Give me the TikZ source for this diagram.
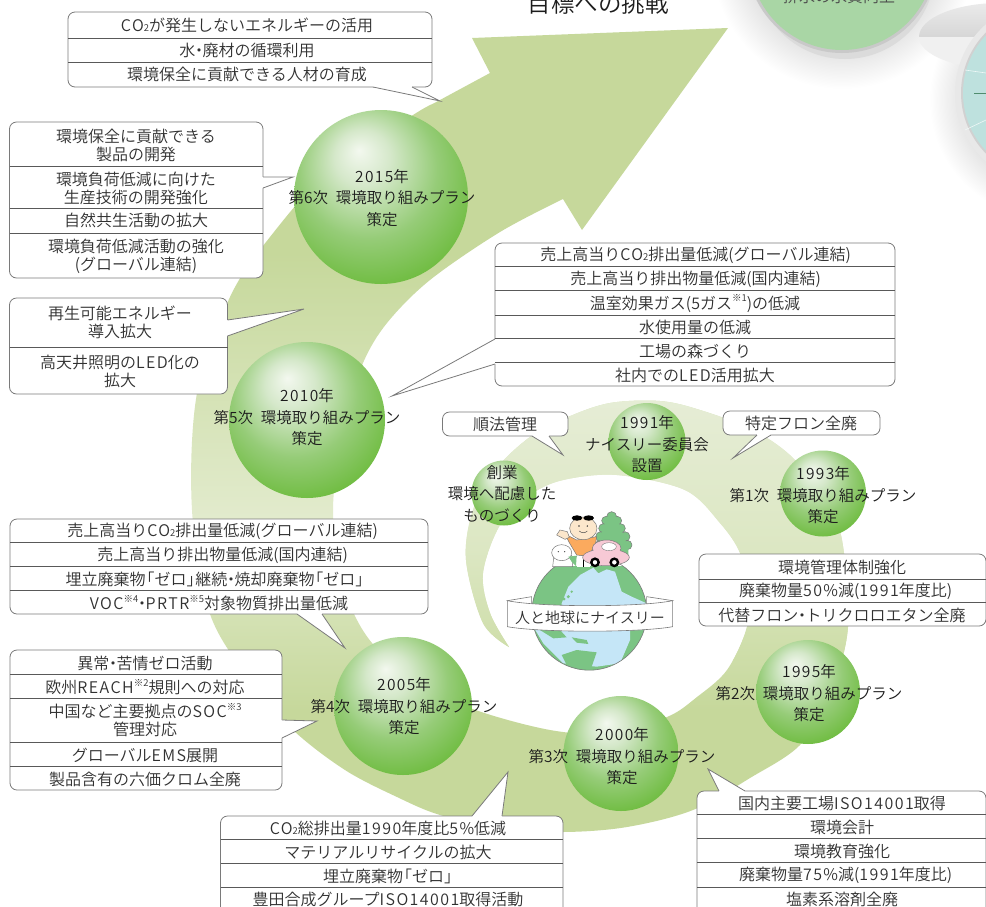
\documentclass[tikz,border=0pt]{standalone}
\usepackage{fontspec}
\setmainfont{Noto Sans CJK JP}[UprightFont=* DemiLight]
\newfontface\widelatin[LetterSpace=9]{Noto Sans CJK JP DemiLight}
\usetikzlibrary{calc}
\definecolor{bandA}{HTML}{C6D89B}
\definecolor{bandpale}{HTML}{E2EBCD}
\definecolor{coilA}{HTML}{CDDDA7}
\definecolor{coilB}{HTML}{DCE7C3}
\definecolor{coilC}{HTML}{E6EDD6}
\definecolor{glossA}{HTML}{F3F8EF}
\definecolor{glossB}{HTML}{D5E8CA}
\definecolor{glossC}{HTML}{96CC78}
\definecolor{glossD}{HTML}{6CBB3C}
\definecolor{halogrey}{HTML}{E4E4E4}
\definecolor{discgreen}{HTML}{A9D6A5}
\definecolor{discteal}{HTML}{BEE1DE}
\definecolor{dialline}{HTML}{508C6E}
\definecolor{inktext}{HTML}{303030}
\definecolor{inkdark}{HTML}{1C1C1C}
\definecolor{edgegrey}{HTML}{7A7A7A}
\definecolor{landgreen}{HTML}{7BC484}
\definecolor{oceanblue}{HTML}{C5E6F7}
\definecolor{skinpeach}{HTML}{FCE7CC}
\definecolor{shirtorange}{HTML}{FBAA5E}
\definecolor{carpink}{HTML}{F7C9D5}

% Band colour runs light around mid height on the outer coil
\pgfdeclareverticalshading{outercoil}{100bp}{
  color(0bp)=(bandA); color(32.6bp)=(bandA);
  color(44.4bp)=(bandpale);
  color(61bp)=(bandA); color(100bp)=(bandA)}
% Inner coil fades from pale at the top to the band colour below
\pgfdeclareverticalshading{innercoil}{100bp}{
  color(0bp)=(coilA); color(25bp)=(coilA);
  color(46bp)=(coilB);
  color(75bp)=(coilC); color(100bp)=(coilC)}
% Glossy sphere with its highlight to the upper left
\pgfdeclareradialshading{gloss}{\pgfpoint{-6.4bp}{13.5bp}}{
  color(0bp)=(glossA);
  color(8bp)=(glossB);
  color(20bp)=(glossC);
  color(32bp)=(glossD);
  color(50bp)=(glossD)}
% Soft halo behind the discs at the upper right
\pgfdeclareradialshading{halo}{\pgfpoint{0bp}{0bp}}{
  color(0bp)=(halogrey);
  color(18bp)=(halogrey);
  color(25bp)=(white); color(50bp)=(white)}

\tikzset{
  ball/.style={circle,inner sep=0pt,shading=gloss},
  yearlbl/.style={align=center,text=inkdark,inner sep=0pt,
    font=\fontsize{15.5}{21.5}\selectfont},
  rowlbl/.style={align=center,text=inktext,inner sep=0pt,
    font=\fontsize{16}{18}\selectfont},
  bubble/.style={draw=edgegrey,fill=white,line width=0.8pt,rounded corners=7pt},
  rowline/.style={draw=black!65,line width=0.8pt},
  bubbleline/.style={draw=edgegrey,line width=0.8pt,line join=miter},
}
\newcommand\wl[1]{{\widelatin #1}}
\newcommand\cotwo{\wl{CO}{\fontsize{9.5}{9.5}\selectfont 2}}
\newcommand\notemark[1]{\raisebox{0.45em}{\fontsize{9.5}{9.5}\selectfont ※#1}}
\newcommand\ndot{\kern-.27em・\kern-.27em}
\newcommand\openb{\kern-.45em「}
\newcommand\closeb{」\kern-.45em}
\newcommand\openp{\kern-.45em(}
\newcommand\closep{)\kern-.45em}
\newcommand\planline[1]{第#1次\hspace{.5em}環境取り組みプラン}
% base point, tip, base point, then two points just inside the box
\newcommand\bubbletail[5]{%
  \fill[white] #1 -- #2 -- #3 -- #5 -- #4 -- cycle;
  \draw[bubbleline] #1 -- #2 -- #3;}

\begin{document}
\begin{tikzpicture}[x=1pt,y=-1pt]
\useasboundingbox (0,0) rectangle (986,906);
\clip (0,0) rectangle (986,906);
\fill[white] (0,0) rectangle (986,906);

% Discs at the upper right
\shade[shading=halo] (842,-42) circle (131);
\shade[shading=halo] (1047,100) circle (118);
\begin{scope}
  \clip (900,0) rectangle (986,37);
  \shade[top color=black!8,bottom color=black!24] (1000,37) ellipse (81 and 34);
\end{scope}
\begin{scope}
  \clip (900,37) rectangle (986,80);
  \fill[black!6] (1000,37) ellipse (81 and 32);
\end{scope}
\fill[black!14] (845,-31) circle (90);
\fill[black!21] (842,-42.5) circle (95.5);
\fill[discgreen] (842,-42.5) circle (92.5);
\node[text=black!70,inner sep=0pt,font=\fontsize{16}{16}\selectfont] (lblwater) at (839,-4) {排水の水質向上};
\fill[black!9] (1047,93) circle (92);
\fill[black!18] (1047,93) circle (86);
\fill[discteal] (1047,93) circle (84);
\draw[white!75!discteal,line width=0.6pt] (965,70) -- (986,73);
\draw[white!75!discteal,line width=0.6pt] (965,130) -- (986,120);
\draw[dialline,line width=0.8pt] (974,93) -- (986,93);

% Heading
\node[text=inkdark,inner sep=0pt,font=\fontsize{23.5}{23.5}\selectfont] (heading) at (598,4) {目標への挑戦};

% Spiral band ending in the large arrow head
\def\spiralband{
  (490,73) -- (472,38) -- (728,28) -- (582,230) -- (563,199)
  -- plot[smooth,tension=0.55] coordinates {
    (563,199) (500,232) (430,280) (387,323) (363,363) (345,420) (333,510) (345,590)
    (372,643) (420,680) (470,708) (550,730) (610,733) (667,717) (697,697) (727,670)
    (747,627) (747,590) (740,553) (720,523) (685,490) (617,475) (563,480) (530,495)
    (500,525) (483,573) (490,613) (509,647)}
  -- plot[smooth,tension=0.55] coordinates {
    (509,647) (483,623) (466,560) (473,510) (495,470) (530,437) (568,417) (610,403)
    (660,401) (700,410) (753,430) (793,458) (825,500) (842,540) (848,627) (830,695)
    (800,745) (750,778) (693,810) (627,827) (563,832) (500,828) (440,815) (397,797)
    (345,770) (293,730) (250,680) (210,614) (192,510) (197,393) (230,297) (270,237)
    (330,170) (413,115) (440,100) (490,73)}
  -- cycle}
\shade[shading=outercoil] \spiralband;
\begin{scope}
  \clip \spiralband;
  \shade[shading=innercoil] (440,395) rectangle (860,660);
\end{scope}

% Globe with the figures standing on it
\begin{scope}[shift={(430,400)},x=0.33333pt,y=-0.33333pt]
  \begin{scope}
    \clip (200,500) -- (800,500) -- (800,900) -- (200,900) -- cycle;
    \clip (478,638) circle (172.5);
    \fill[landgreen] (300,480) rectangle (660,820);
    \fill[oceanblue] (395,610) -- (415,560) -- (450,525) -- (490,503) -- (505,520)
      -- (530,508) -- (555,515) -- (565,545) -- (575,575) -- (605,590) -- (650,610)
      -- (650,690) -- (600,690) -- (600,720) -- (570,790) -- (500,800) -- (400,790)
      -- (340,730) -- (310,680) -- (395,680) -- cycle;
    \fill[landgreen] (395,765) -- (440,750) -- (500,757) -- (485,800) -- (420,815) -- cycle;
    \fill[landgreen] (425,712) -- (470,720) -- (475,732) -- (440,728) -- cycle;
    \fill[landgreen] (330,690) -- (390,690) -- (410,712) -- (370,715) -- cycle;
    \fill[landgreen] (402,597) circle (5) (415,590) circle (5) (425,575) circle (4);
  \end{scope}
  \draw[edgegrey,line width=0.6pt] (478,638) circle (172.5);
  % tree, with a scalloped outline
  \foreach \tx/\ty/\tr in {545/350/15,528/362/13,562/362/13,520/385/14,572/385/14,
      512/410/15,585/410/15,510/435/14,592/435/14}
    {\draw[edgegrey,line width=0.5pt,fill=landgreen] (\tx,\ty) circle (\tr);}
  \fill[landgreen] (530,350) -- (560,350) -- (595,445) -- (595,470) -- (505,470) -- (505,435) -- cycle;
  % boy
  \fill[shirtorange,draw=edgegrey,line width=0.5pt] (405,402) -- (440,420) -- (500,410) -- (495,440) -- (470,468)
    -- (440,465) -- (418,428) -- cycle;
  \fill[skinpeach,draw=edgegrey,line width=0.5pt] (380,405) -- (390,390) -- (412,395) -- (418,412) -- (405,418) -- cycle;
  \fill[skinpeach,draw=edgegrey,line width=0.5pt] (460,385) ellipse (41 and 34);
  \fill[black] (441,354) ellipse (16 and 8) (476,354) ellipse (16 and 8);
  \fill[black!75] (447,378) circle (2.5) (472,378) circle (2.5);
  \draw[black!70,line width=0.5pt] (448,393) .. controls (455,400) and (465,400) .. (472,393);
  % dog, with the boy's shorts beside it
  \fill[white,draw=edgegrey,line width=0.5pt] (368,500) -- (372,465) -- (425,465) -- (428,500) -- cycle;
  \fill[white,draw=edgegrey,line width=0.5pt] (395,458) ellipse (30 and 24);
  \fill[black!70] (385,455) circle (2) (404,455) circle (2);
  \fill[landgreen] (415,470) -- (440,467) -- (438,498) -- (425,485) -- cycle;
  \fill[white] (440,468) rectangle (480,501);
  \draw[black,line width=0.7pt] (460,470) -- (460,501);
  % car
  \fill[carpink,draw=edgegrey,line width=0.5pt] (530,445) ellipse (43 and 25);
  \fill[carpink,draw=edgegrey,line width=0.5pt] (528,472) ellipse (70 and 25);
  \fill[carpink] (530,455) ellipse (41 and 20);
  \fill[white,draw=edgegrey,line width=0.4pt] (537,440) ellipse (22 and 12);
  \fill[white,draw=black,line width=2.4pt] (495,487) circle (11) (553,487) circle (11);
  % ribbon
  \fill[white,draw=edgegrey,line width=0.6pt] (232,602) -- (305,590) -- (305,625) -- cycle;
  \fill[white,draw=edgegrey,line width=0.6pt] (728,602) -- (650,590) -- (650,625) -- cycle;
  \fill[white,draw=edgegrey,line width=0.6pt] (232,602) .. controls (330,622) and (630,622) .. (728,602)
    -- (728,680) .. controls (630,698) and (330,698) .. (232,680) -- cycle;
\end{scope}
\node[rowlbl,font=\fontsize{15}{15}\selectfont] (lblribbon) at (590,618) {人と地球にナイスリー};

% Spheres for the milestones
\node[ball,minimum size=174pt] (m2015) at (381,197) {};
\node[ball,minimum size=156pt] (m2010) at (307,420) {};
\node[ball,minimum size=138pt] (m2005) at (403,706) {};
\node[ball,minimum size=115pt] (m2000) at (621,753.5) {};
\node[ball,minimum size=104pt] (m1995) at (808,692) {};
\node[ball,minimum size=86pt]  (m1993) at (823,493.5) {};
\node[ball,minimum size=77pt]  (m1991) at (647,441.5) {};
\node[ball,minimum size=65pt]  (mstart) at (504,493) {};

\node[yearlbl] (t2015) at (382,198) {\wl{2015}年\\\planline{6}\\策定};
\node[yearlbl] (t2010) at (307,417.5) {\wl{2010}年\\\planline{5}\\策定};
\node[yearlbl] (t2005) at (404,706.5) {\wl{2005}年\\\planline{4}\\策定};
\node[yearlbl] (t2000) at (622,756.5) {\wl{2000}年\\\planline{3}\\策定};
\node[yearlbl] (t1995) at (809,693.5) {\wl{1995}年\\\planline{2}\\策定};
\node[yearlbl] (t1993) at (823,495.5) {\wl{1993}年\\\planline{1}\\策定};
\node[yearlbl] (t1991) at (647,444.5) {\wl{1991}年\\ナイスリー委員会\\設置};
\node[yearlbl] (tstart) at (502,493.5) {創業\\環境へ配慮した\\ものづくり};

% Callout: 2015, upper
\coordinate (tip15a) at (440,101);
\path[bubble] (68,12) rectangle (432,87);
\bubbletail{(373,87)}{(tip15a)}{(412,87)}{(373,86)}{(412,86)}
\draw[rowline] (68,38) -- (432,38) (68,62) -- (432,62);
\node[rowlbl] (a1) at (247,25.5) {\cotwo が発生しないエネルギーの活用};
\node[rowlbl] (a2) at (247,50) {水\ndot 廃材の循環利用};
\node[rowlbl] (a3) at (247,74) {環境保全に貢献できる人材の育成};

% Callout: 2015, left
\coordinate (tip15b) at (293,177);
\path[bubble] (9.5,122) rectangle (263,278);
\bubbletail{(263,177)}{(tip15b)}{(263,188)}{(262,177)}{(262,188)}
\draw[rowline] (9.5,166) -- (263,166) (9.5,208) -- (263,208) (9.5,233) -- (263,233);
\node[rowlbl] (b1) at (136,145.5) {環境保全に貢献できる\\製品の開発};
\node[rowlbl] (b2) at (136,188) {環境負荷低減に向けた\\生産技術の開発強化};
\node[rowlbl] (b3) at (136,220.5) {自然共生活動の拡大};
\node[rowlbl] (b4) at (136,256.5) {環境負荷低減活動の強化\\(グローバル連結)};

% Callout: 2010, left
\coordinate (tip10a) at (304,309);
\path[bubble] (9.5,298) rectangle (227.5,394);
\bubbletail{(227.5,320)}{(tip10a)}{(227.5,336)}{(226.5,320)}{(226.5,336)}
\draw[rowline] (9.5,347) -- (227.5,347);
\node[rowlbl] (c1) at (120,322.5) {再生可能エネルギー\\導入拡大};
\node[rowlbl] (c2) at (120,371.5) {高天井照明の\wl{LED}化の\\拡大};

% Callout: 2010, right
\coordinate (tip10b) at (392,396);
\path[bubble] (495,243) rectangle (895,386);
\bubbletail{(495,339)}{(tip10b)}{(495,364)}{(496,339)}{(496,364)}
\draw[rowline] (495,266) -- (895,266) (495,290) -- (895,290) (495,315) -- (895,315)
  (495,338) -- (895,338) (495,362) -- (895,362);
\node[rowlbl] (d1) at (692,255.5) {売上高当り\cotwo 排出量低減\hspace{.45em}\openp グローバル連結\closep};
\node[rowlbl] (d2) at (692,279.5) {売上高当り排出物量低減\hspace{.45em}\openp 国内連結\closep};
\node[rowlbl] (d3) at (695,303.5) {温室効果ガス\hspace{.45em}\openp 5ガス\notemark{1}\closep\hspace{.45em}の低減};
\node[rowlbl] (d4) at (695,327.5) {水使用量の低減};
\node[rowlbl] (d5) at (695,351.5) {工場の森づくり};
\node[rowlbl] (d6) at (695,375.5) {社内での\wl{LED}活用拡大};

% Callouts: early milestones
\coordinate (tipcomp) at (563,455);
\path[bubble] (442.5,412) rectangle (568,436);
\bubbletail{(532,436)}{(tipcomp)}{(549,436)}{(532,435)}{(549,435)}
\node[rowlbl] (e1) at (505,424.5) {順法管理};
\coordinate (tipcfc) at (733,458);
\path[bubble] (723,411) rectangle (880,435);
\bubbletail{(757,435)}{(tipcfc)}{(771,435)}{(757,434)}{(771,434)}
\node[rowlbl] (f1) at (801,423.5) {特定フロン全廃};

% Callout: 1995
\path[bubble] (699,554) rectangle (986,626);
\draw[rowline] (699,579) -- (986,579) (699,602) -- (986,602);
\node[rowlbl] (g1) at (842,567.5) {環境管理体制強化};
\node[rowlbl] (g2) at (842,591.5) {廃棄物量\wl{50\%}減\hspace{.45em}\openp\wl{1991}年度比\closep};
\node[rowlbl] (g3) at (842,615.5) {代替フロン\ndot トリクロロエタン全廃};

% Callout: 2000, right
\coordinate (tip00a) at (708,769);
\path[bubble] (697,791) rectangle (986,930);
\bubbletail{(719,791)}{(tip00a)}{(745,791)}{(719,792)}{(745,792)}
\draw[rowline] (697,814) -- (986,814) (697,838) -- (986,838) (697,862) -- (986,862) (697,887) -- (986,887);
\node[rowlbl] (h1) at (842,803.5) {国内主要工場\wl{ISO14001}取得};
\node[rowlbl] (h2) at (842,827.5) {環境会計};
\node[rowlbl] (h3) at (842,851.5) {環境教育強化};
\node[rowlbl] (h4) at (842,875.5) {廃棄物量\wl{75\%}減\hspace{.45em}\openp\wl{1991}年度比\closep};
\node[rowlbl] (h5) at (842,899.5) {塩素系溶剤全廃};

% Callout: 2000, left
\coordinate (tip00b) at (508,772);
\path[bubble] (220.5,816) rectangle (563,930);
\bubbletail{(472,816)}{(tip00b)}{(502,816)}{(472,817)}{(502,817)}
\draw[rowline] (220.5,839) -- (563,839) (220.5,863) -- (563,863) (220.5,887) -- (563,887);
\node[rowlbl] (i1) at (388,828.5) {\cotwo 総排出量\wl{1990}年度比\wl{5\%}低減};
\node[rowlbl] (i2) at (388,852.5) {マテリアルリサイクルの拡大};
\node[rowlbl] (i3) at (388,876.5) {埋立廃棄物\openb ゼロ\closeb};
\node[rowlbl] (i4) at (388,899.5) {豊田合成グループ\wl{ISO14001}取得活動};

% Callout: 2005, upper
\coordinate (tip05a) at (345,648);
\path[bubble] (10,519) rectangle (428,614);
\bubbletail{(297,614)}{(tip05a)}{(322,614)}{(297,613)}{(322,613)}
\draw[rowline] (10,542) -- (428,542) (10,566) -- (428,566) (10,590) -- (428,590);
\node[rowlbl] (j1) at (219,531.5) {売上高当り\cotwo 排出量低減\hspace{.45em}\openp グローバル連結\closep};
\node[rowlbl] (j2) at (219,555.5) {売上高当り排出物量低減\hspace{.45em}\openp 国内連結\closep};
\node[rowlbl] (j3) at (215,579.5) {埋立廃棄物\openb ゼロ\closeb 継続\ndot 焼却廃棄物\openb ゼロ\closeb};
\node[rowlbl] (j4) at (219,603.5) {\wl{VOC}\notemark{4}\ndot\wl{PRTR}\notemark{5}対象物質排出量低減};

% Callout: 2005, left
\coordinate (tip05b) at (317,721);
\path[bubble] (10,650) rectangle (282,790);
\bubbletail{(282,720)}{(tip05b)}{(282,738)}{(281,720)}{(281,738)}
\draw[rowline] (10,674) -- (282,674) (10,698) -- (282,698) (10,742) -- (282,742) (10,766) -- (282,766);
\node[rowlbl] (k1) at (145,663.5) {異常\ndot 苦情ゼロ活動};
\node[rowlbl] (k2) at (145,687.5) {欧州\wl{REACH}\notemark{2}規則への対応};
\node[rowlbl] (k3) at (145,720.5) {中国など主要拠点の\wl{SOC}\notemark{3}\\管理対応};
\node[rowlbl] (k4) at (145,755.5) {グローバル\wl{EMS}展開};
\node[rowlbl] (k5) at (145,779.5) {製品含有の六価クロム全廃};
\end{tikzpicture}
\end{document}
